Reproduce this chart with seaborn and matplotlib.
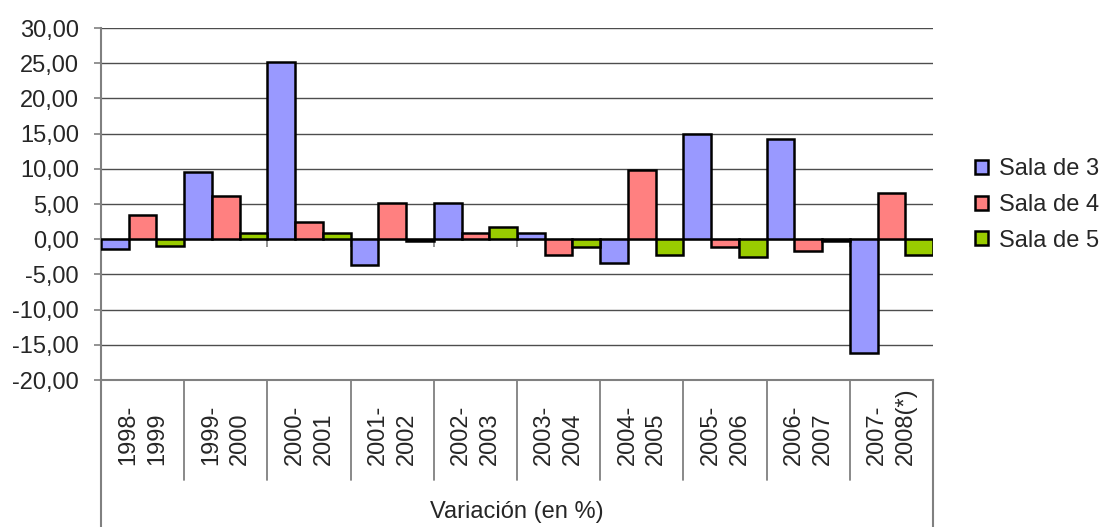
import pandas as pd
import matplotlib
matplotlib.use("Agg")
import matplotlib.pyplot as plt
import seaborn as sns

# data
periodos = ["1998-\n1999", "1999-\n2000", "2000-\n2001", "2001-\n2002", "2002-\n2003",
            "2003-\n2004", "2004-\n2005", "2005-\n2006", "2006-\n2007", "2007-\n2008(*)"]
sala3 = [-1.4, 9.6, 25.2, -3.7, 5.1, 0.9, -3.4, 15.0, 14.2, -16.2]
sala4 = [3.4, 6.2, 2.5, 5.1, 0.9, -2.3, 9.9, -1.1, -1.7, 6.5]
sala5 = [-0.9, 0.9, 0.9, -0.3, 1.7, -1.1, -2.3, -2.5, -0.3, -2.3]
salas = ["Sala de 3", "Sala de 4", "Sala de 5"]
colores = ["#9999FF", "#FF8080", "#99CC00"]
yticks = [-20, -15, -10, -5, 0, 5, 10, 15, 20, 25, 30]
xlabel = "Variación (en %)"

df = pd.DataFrame({
    "periodo": periodos * 3,
    "sala": [salas[0]] * 10 + [salas[1]] * 10 + [salas[2]] * 10,
    "valor": sala3 + sala4 + sala5,
})

sns.set_style("white")
plt.rcParams["font.family"] = ["Liberation Sans", "DejaVu Sans"]
fs = 17

fig = plt.figure(figsize=(11.01, 5.27), dpi=100)
ax = fig.add_axes([101 / 1101, 1 - 380 / 527, 832 / 1101, 352 / 527])

sns.barplot(data=df, x="periodo", y="valor", hue="sala", palette=colores,
            width=1.0, saturation=1, edgecolor="black", linewidth=1.8,
            ax=ax, zorder=3)

ax.set_xlim(-0.5, 9.5)
ax.set_ylim(-20, 30)
ax.set_yticks(yticks)
ax.set_yticklabels([f"{v:.2f}".replace(".", ",") for v in yticks], fontsize=fs)
ax.tick_params(axis="y", length=5, width=1.2, color="#808080", pad=11, left=True)
ax.tick_params(axis="x", length=0, labelbottom=False)
ax.set_xlabel("")
ax.set_ylabel("")
ax.yaxis.grid(True, color="#4d4d4d", linewidth=1.0, zorder=0)
ax.set_axisbelow(True)

for s in ["top", "right"]:
    ax.spines[s].set_visible(False)
ax.spines["left"].set_color("#808080")
ax.spines["left"].set_linewidth(1.5)
ax.spines["bottom"].set_color("#808080")
ax.spines["bottom"].set_linewidth(1.5)

# small ticks on the zero line between groups
ax.vlines([i + 0.5 for i in range(9)], -1.1, 0, color="#808080", linewidth=1.2, zorder=1)

# category cells below the axis
tr = ax.get_xaxis_transform()
for i in range(9):
    ax.plot([i + 0.5, i + 0.5], [0, -0.284], transform=tr, color="#808080",
            linewidth=1.3, clip_on=False)
for xb in [-0.5, 9.5]:
    ax.plot([xb, xb], [0, -0.45], transform=tr, color="#808080",
            linewidth=1.5, clip_on=False)

for i, p in enumerate(periodos):
    ax.text(i, -0.242, p, transform=tr, rotation=90, ha="center", va="bottom",
            multialignment="left", linespacing=1.4, fontsize=fs)

ax.text(4.5, -0.375, xlabel, transform=tr, ha="center", va="center", fontsize=fs)

handles, labels = ax.get_legend_handles_labels()
ax.legend(handles, labels, loc="center left", bbox_to_anchor=(0.877, 0.611),
          bbox_transform=fig.transFigure, frameon=False, fontsize=fs,
          handlelength=0.55, handleheight=0.55, handletextpad=0.45,
          labelspacing=0.58, borderaxespad=0)

fig.savefig("out.png", dpi=100)
